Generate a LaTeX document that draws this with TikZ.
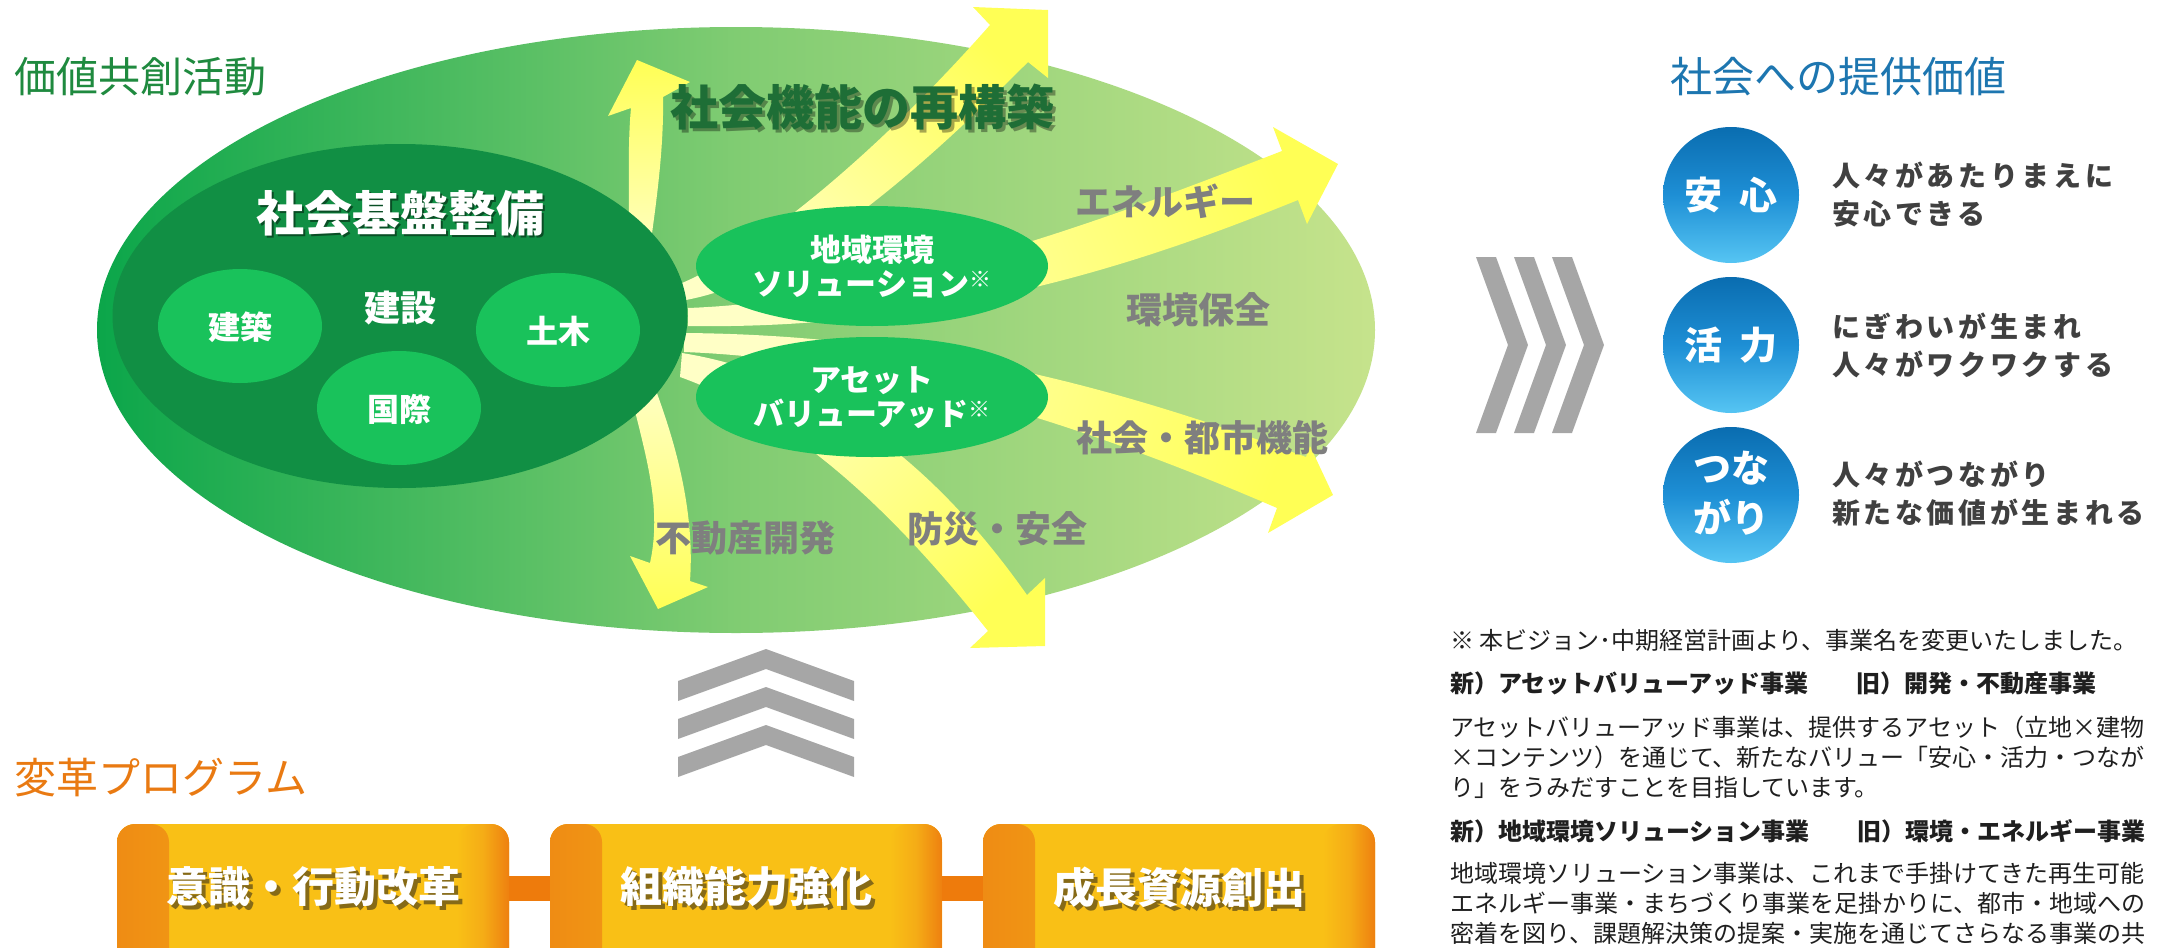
\documentclass[tikz,border=0pt]{standalone}
\usepackage{fontspec}
\setmainfont{Noto Sans CJK JP}
\usetikzlibrary{shapes.geometric}
\definecolor{gL}{HTML}{0BA64A}
\definecolor{gM}{HTML}{80CC72}
\definecolor{gR}{HTML}{C6E38C}
\definecolor{gDark}{HTML}{118F44}
\definecolor{gBright}{HTML}{19C25B}
\definecolor{yPale}{HTML}{FFFFC6}
\definecolor{yBright}{HTML}{FFFF55}
\definecolor{greyTxt}{HTML}{7F7F7F}
\definecolor{titleGreen}{HTML}{1F8A3F}
\definecolor{titleBlue}{HTML}{1D76B0}
\definecolor{titleOrange}{HTML}{E97A12}
\definecolor{chev}{HTML}{A6A6A6}
\definecolor{boxOrange}{HTML}{EF8C14}
\definecolor{boxOrangeM}{HTML}{F5AC16}
\definecolor{boxOrangeR}{HTML}{EE8010}
\definecolor{boxYellow}{HTML}{F9C016}
\definecolor{barOrange}{HTML}{EE7B0C}
\definecolor{darkText}{HTML}{404040}
\definecolor{kinouGreen}{HTML}{1E6E36}
\definecolor{blueT}{HTML}{0A6DB0}
\definecolor{blueM}{HTML}{1E8FD5}
\definecolor{blueB}{HTML}{56C5F3}
\definecolor{shadowOl}{HTML}{6A5518}
\newcommand{\kome}{\raisebox{4pt}{\fontsize{11}{11}\selectfont ※}}
\begin{document}
\begin{tikzpicture}[x=0.5pt,y=-0.5pt,
  every node/.style={inner sep=0pt,outer sep=0pt},
  ell/.style={ellipse,draw=none},
  smallc/.style={ell,fill=gBright,minimum width=82pt,minimum height=57pt},
  midell/.style={ell,fill=gBright,minimum width=176pt,minimum height=60pt},
  arrowshade/.style={left color=yPale,right color=yBright,shading angle=#1},
  lbl/.style={text=greyTxt,font=\bfseries\fontsize{18}{18}\selectfont},
  ctxt/.style={text=white,font=\bfseries\fontsize{16}{16}\selectfont},
  midtxt/.style={text=white,align=center,font=\bfseries\fontsize{15.5}{17}\selectfont},
  title/.style={anchor=west,font=\fontsize{21}{21}\selectfont},
  boxtxt/.style={text=white,font=\bfseries\fontsize{21}{21}\selectfont},
  boxshadow/.style={text=shadowOl,text opacity=0.8,font=\bfseries\fontsize{21}{21}\selectfont},
  orangebox/.style={rectangle,rounded corners=9pt,fill=boxYellow,minimum width=196pt,minimum height=80pt,
    path picture={
      \shade[left color=boxOrange,right color=boxYellow,middle color=boxOrangeM] (path picture bounding box.south west) rectangle ([xshift=26pt]path picture bounding box.north west);
      \shade[left color=boxYellow,right color=boxOrangeR,middle color=boxOrangeM] ([xshift=-26pt]path picture bounding box.south east) rectangle (path picture bounding box.north east);
    }},
  bar/.style={barOrange,line width=12.5pt},
  bluec/.style={circle,minimum size=68pt,top color=blueT,bottom color=blueB,middle color=blueM},
  bluetxt/.style={text=white,font=\bfseries\fontsize{19}{25}\selectfont,align=center},
  valtxt/.style={anchor=west,align=left,text=darkText,font=\bfseries\fontsize{14}{19}\selectfont\addfontfeature{LetterSpace=13}},
  note/.style={anchor=west,text=black!88,font=\fontsize{12}{12}\selectfont},
  notebold/.style={anchor=west,text=black!88,font=\bfseries\fontsize{12}{12}\selectfont}
]
\path[use as bounding box] (0,0) rectangle (2170,948);
\clip (0,0) rectangle (2170,948);

% big ellipse
\node[ell,minimum width=639pt,minimum height=303pt,left color=gL,right color=gR,middle color=gM] (big) at (736,330) {};

% yellow arrows
\shade[arrowshade=180] (628,262) .. controls (630,200) and (627,150) .. (631,108) -- (608,116) -- (637,60) -- (690,82) -- (663,97) .. controls (664,150) and (656,205) .. (648,262) -- cycle;
\shade[arrowshade=135] (682,283) .. controls (760,250) and (880,150) .. (990,25) -- (973,7) -- (1048,10) -- (1048,78) -- (1028,62) .. controls (900,190) and (790,280) .. (686,300) -- cycle;
\shade[arrowshade=110] (688,308) .. controls (900,300) and (1130,210) .. (1282,151) -- (1273,127) -- (1338,164) -- (1307,224) -- (1298,200) .. controls (1150,260) and (950,330) .. (688,326) -- cycle;
\shade[arrowshade=70] (684,333) .. controls (950,335) and (1150,400) .. (1306,457) -- (1310,446) -- (1333,495) -- (1268,533) -- (1277,508) .. controls (1120,440) and (900,360) .. (684,352) -- cycle;
\shade[arrowshade=45] (682,353) .. controls (850,380) and (960,500) .. (1027,595) -- (1045,578) -- (1045,646) -- (970,648) -- (988,631) .. controls (900,520) and (800,420) .. (680,377) -- cycle;
\shade[arrowshade=0] (628,380) .. controls (640,440) and (664,500) .. (650,563) -- (630,556) -- (658,609) -- (708,587) -- (690,581) .. controls (695,510) and (675,440) .. (652,380) -- cycle;

% core ellipse
\node[ell,fill=gDark,minimum width=287.5pt,minimum height=172pt] (core) at (400,316) {};
\node[smallc] (kenchiku) at (240,326) {};
\node[smallc] (kokusai) at (399,408) {};
\node[smallc] (doboku) at (558,330) {};
\node[ctxt] (kenchikuT) at (240,327) {建築};
\node[ctxt] (kokusaiT) at (399,409) {国際};
\node[ctxt] (dobokuT) at (558,331) {土木};
\node[text=white,font=\bfseries\fontsize{18}{18}\selectfont] (kensetsu) at (400,308) {建設};
\node[text=black,text opacity=0.45,font=\bfseries\fontsize{24}{24}\selectfont] (kibanS) at (402.5,215.5) {社会基盤整備};
\node[text=white,font=\bfseries\fontsize{24}{24}\selectfont] (kiban) at (400,213) {社会基盤整備};

% middle ellipses
\node[midell] (chiiki) at (872,266) {};
\node[midell] (asset) at (872,397) {};
\node[midtxt] (chiikiT) at (872,267) {地域環境\\ソリューション\kome};
\node[midtxt] (assetT) at (872,398) {アセット\\バリューアッド\kome};

% labels
\node[text=black,text opacity=0.35,font=\bfseries\fontsize{24}{24}\selectfont] (kinouS) at (865.5,110.5) {社会機能の再構築};
\node[text=kinouGreen,font=\bfseries\fontsize{24}{24}\selectfont] (kinou) at (862,107) {社会機能の再構築};
\node[lbl] (lEne) at (1165,201) {エネルギー};
\node[lbl] (lKankyo) at (1198,310) {環境保全};
\node[lbl] (lToshi) at (1202,438) {社会・都市機能};
\node[lbl] (lBosai) at (997,529) {防災・安全};
\node[lbl] (lFudo) at (745,538) {不動産開発};

% titles
\node[title,text=titleGreen] (tKachi) at (15,77) {価値共創活動};
\node[title,text=titleOrange] (tHenkaku) at (15,778) {変革プログラム};
\node[title,text=titleBlue] (tTeikyo) at (1670,77) {社会への提供価値};

% up chevrons
\foreach \t in {649,687,725}{
  \fill[chev] (678,\t+32) -- (766,\t) -- (854,\t+32) -- (854,\t+52) -- (766,\t+20) -- (678,\t+52) -- cycle;
}
% right chevrons
\foreach \a in {1476,1514,1552}{
  \fill[chev] (\a,257) -- (\a+20,257) -- (\a+52,345) -- (\a+20,433) -- (\a,433) -- (\a+32,345) -- cycle;
}

% orange boxes
\node[orangebox] (b1) at (313,904) {};
\node[orangebox] (b2) at (746,904) {};
\node[orangebox] (b3) at (1179,904) {};
\draw[bar] ([yshift=8pt]b1.east) -- ([yshift=8pt]b2.west);
\draw[bar] ([yshift=8pt]b2.east) -- ([yshift=8pt]b3.west);
\node[boxshadow] (bs1) at (317,891) {意識・行動改革};
\node[boxtxt] (bt1) at (313,887) {意識・行動改革};
\node[boxshadow] (bs2) at (750,891) {組織能力強化};
\node[boxtxt] (bt2) at (746,887) {組織能力強化};
\node[boxshadow] (bs3) at (1183,891) {成長資源創出};
\node[boxtxt] (bt3) at (1179,887) {成長資源創出};

% blue circles
\node[bluec] (anshin) at (1731,195) {};
\node[bluec] (katsuryoku) at (1731,345) {};
\node[bluec] (tsunagari) at (1731,495) {};
\node[bluetxt] (anshinT) at (1731,195) {安\hspace{9pt}心};
\node[bluetxt] (katsuryokuT) at (1731,345) {活\hspace{9pt}力};
\node[bluetxt] (tsunagariT) at (1731,493) {つな\\がり};
\node[valtxt] (v1) at (1832,195) {人々があたりまえに\\安心できる};
\node[valtxt] (v2) at (1832,345) {にぎわいが生まれ\\人々がワクワクする};
\node[valtxt] (v3) at (1832,494) {人々がつながり\\新たな価値が生まれる};

% notes
\node[note] (n1) at (1450,640) {※ 本ビジョン･中期経営計画より、事業名を変更いたしました。};
\node[notebold] (n2) at (1450,683) {新）アセットバリューアッド事業　　旧）開発・不動産事業};
\node[note] (n3) at (1450,727) {アセットバリューアッド事業は、提供するアセット（立地×建物};
\node[note] (n4) at (1450,757) {×コンテンツ）を通じて、新たなバリュー「安心・活力・つなが};
\node[note] (n5) at (1450,787) {り」をうみだすことを目指しています。};
\node[notebold] (n6) at (1450,831) {新）地域環境ソリューション事業　　旧）環境・エネルギー事業};
\node[note] (n7) at (1450,873) {地域環境ソリューション事業は、これまで手掛けてきた再生可能};
\node[note] (n8) at (1450,903) {エネルギー事業・まちづくり事業を足掛かりに、都市・地域への};
\node[note] (n9) at (1450,933) {密着を図り、課題解決策の提案・実施を通じてさらなる事業の共};
\end{tikzpicture}
\end{document}
